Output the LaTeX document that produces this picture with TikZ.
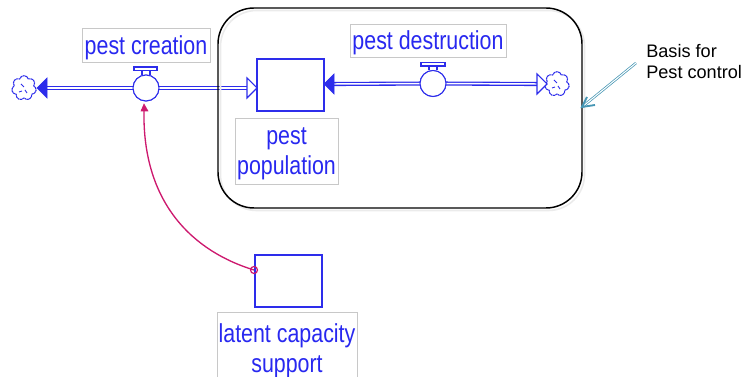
\documentclass[tikz,border=0pt]{standalone}
\usepackage{fontspec}
\setmainfont{Liberation Sans}
\usetikzlibrary{shapes.symbols,arrows.meta,calc}
\definecolor{sdblue}{RGB}{45,45,235}
\definecolor{lblblue}{RGB}{40,40,240}
\definecolor{lblgray}{RGB}{200,200,200}
\definecolor{conn}{RGB}{205,25,110}
\definecolor{noteteal}{RGB}{70,150,180}
\newcommand{\lbltxt}[1]{\raisebox{-1.9pt}[\height][\depth]{\scalebox{0.823}[1]{#1}}}
\tikzset{
  stockbox/.style={draw=sdblue,line width=1pt,fill=white,minimum width=50.25pt,minimum height=39pt,inner sep=0pt,outer sep=0pt},
  lbl/.style={draw=lblgray,line width=0.7pt,fill=white,text=lblblue,inner sep=0pt,outer sep=0pt,align=center,font=\fontsize{19.5}{22.5}\selectfont},
  valvec/.style={circle,draw=sdblue,line width=0.8pt,fill=white,minimum size=19.5pt,inner sep=0pt,outer sep=0pt},
  sink/.style={cloud,cloud puffs=7,cloud puff arc=150,draw=sdblue,dash pattern=on 1.6pt off 0.35pt,line width=0.8pt,minimum width=18.5pt,minimum height=18.5pt,inner sep=0pt,aspect=1,outer sep=0pt},
  tick/.style={draw=sdblue,line width=0.7pt},
  flow/.style={draw=sdblue,double=white,double distance=1.1pt,line width=1pt},
  ftip/.style={draw=sdblue,fill=sdblue,line width=0.5pt,line join=miter},
  otip/.style={draw=sdblue,fill=white,line width=0.8pt,line join=miter},
  handle/.style={draw=sdblue,line width=0.8pt},
}
\begin{document}
\begin{tikzpicture}[x=0.75pt,y=-0.75pt]
\useasboundingbox (0,0) rectangle (744,377);
% nodes
\node[stockbox] (pop) at (290.5,85) {};
\node[stockbox] (lat) at (288.5,281) {};
\node[valvec] (v1) at (146,88) {};
\node[valvec] (v2) at (433,83.5) {};
\node[sink] (c1) at (24,88) {};
\node[sink] (c2) at (557,84) {};
\draw[tick] ($(c1)+(-3,-4)$) -- ($(c1)+(0,-1)$) ($(c1)+(3,5)$) -- ($(c1)+(1,2)$) ($(c1)+(-5,4)$) -- ($(c1)+(-2,3)$);
\draw[tick] ($(c2)+(-3,-4)$) -- ($(c2)+(0,-1)$) ($(c2)+(3,5)$) -- ($(c2)+(1,2)$) ($(c2)+(-5,4)$) -- ($(c2)+(-2,3)$);
\coordinate (t1) at (37,88);
\coordinate (t2) at (257,88);
\coordinate (t3) at (324,84);
\coordinate (t4) at (547,84);
% flows
\draw[flow] (v1) -- (47,88);
\draw[flow] (v1) -- (248,88);
\draw[flow] (v2) -- (334,84);
\draw[flow] (v2) -- (537,84);
\node[valvec] at (v1) {};
\node[valvec] at (v2) {};
% tips
\draw[ftip] (t1) -- ++(10,-10) -- ++(0,20) -- cycle;
\draw[otip] (t2) -- ++(-10,-10) -- ++(0,20) -- cycle;
\draw[ftip] (t3) -- ++(10,-10) -- ++(0,20) -- cycle;
\draw[otip] (t4) -- ++(-10,-10) -- ++(0,20) -- cycle;
% valve handles
\draw[handle] ($(v1.north)+(-4,0)$) -- ++(0,-5) ($(v1.north)+(4,0)$) -- ++(0,-5);
\draw[handle,fill=white] (134,67) rectangle (157,70.5);
\draw[handle] ($(v2.north)+(-4,0)$) -- ++(0,-5) ($(v2.north)+(4,0)$) -- ++(0,-5);
\draw[handle,fill=white] (421,62.5) rectangle (445,66);
% labels
\node[lbl,minimum width=96pt,minimum height=25.5pt] (lc) at (146,45) {\lbltxt{pest creation}};
\node[lbl,minimum width=117pt,minimum height=24.75pt] (ld) at (428,40.5) {\lbltxt{pest destruction}};
\node[lbl,minimum width=77.25pt,minimum height=49.5pt] (lp) at (286.5,151) {\lbltxt{pest}\\\lbltxt{population}};
\begin{scope}
\clip (0,0) rectangle (744,377);
\node[lbl,minimum width=105pt,minimum height=53pt] (ll) at (287,348) {\lbltxt{latent capacity}\\\lbltxt{support}};
\end{scope}
% boundary
\draw[black!8,line width=1.2pt,rounded corners=27pt] (220.5,10.5) rectangle (584.5,210.5);
\node[draw=black,line width=1.1pt,rounded corners=27pt,minimum width=273pt,minimum height=150pt,inner sep=0pt,outer sep=0pt] (basis) at (400,108) {};
% influence
\coordinate (cs) at (254,270);
\draw[conn,line width=1pt] (cs) .. controls (195,252) and (142,205) .. (144,110);
\draw[conn,fill=conn,line width=0.4pt] (144,104) -- (148,111) -- (141,111) -- cycle;
\draw[conn,line width=0.9pt] (cs) circle (3.5);
% note
\node[anchor=north west,inner sep=0pt,align=left,font=\fontsize{13.6}{15.75}\selectfont] (note) at (646,44.5) {Basis for\\Pest control};
\coordinate (ns) at (636,63);
\coordinate (ne) at (582,107);
\draw[noteteal,line width=0.55pt,double=white,double distance=0.8pt] (ns) -- (ne);
\draw[noteteal,line width=1.4pt,line join=miter] (595,105) -- (ne) -- (587,97);
\end{tikzpicture}
\end{document}
